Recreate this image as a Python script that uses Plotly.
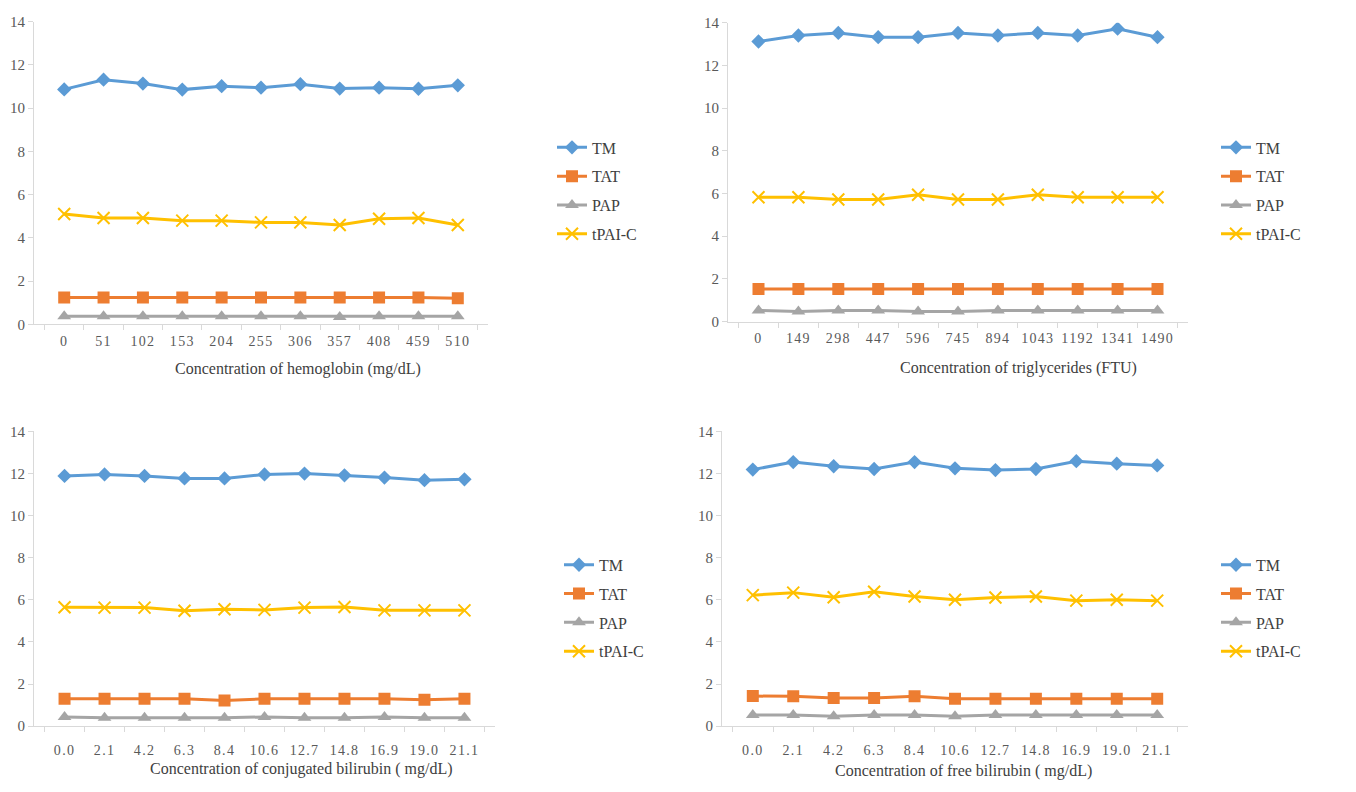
import plotly.graph_objects as go

# Interference study: four markers measured against increasing interferent levels
series_names = ["TM", "TAT", "PAP", "tPAI-C"]

hb_levels = ["0", "51", "102", "153", "204", "255", "306", "357", "408", "459", "510"]
hb_tm = [10.87, 11.32, 11.14, 10.86, 11.02, 10.95, 11.11, 10.91, 10.95, 10.90, 11.06]
hb_tat = [1.25, 1.25, 1.25, 1.25, 1.25, 1.25, 1.25, 1.25, 1.25, 1.25, 1.21]
hb_pap = [0.38, 0.38, 0.38, 0.38, 0.38, 0.38, 0.38, 0.35, 0.38, 0.38, 0.38]
hb_tpai = [5.11, 4.92, 4.92, 4.80, 4.80, 4.72, 4.72, 4.60, 4.89, 4.92, 4.60]

tg_levels = ["0", "149", "298", "447", "596", "745", "894", "1043", "1192", "1341", "1490"]
tg_tm = [13.12, 13.40, 13.52, 13.32, 13.32, 13.52, 13.40, 13.52, 13.40, 13.72, 13.32]
tg_tat = [1.52, 1.52, 1.52, 1.52, 1.52, 1.52, 1.52, 1.52, 1.52, 1.52, 1.52]
tg_pap = [0.52, 0.47, 0.52, 0.52, 0.47, 0.47, 0.52, 0.52, 0.52, 0.52, 0.52]
tg_tpai = [5.82, 5.82, 5.72, 5.72, 5.94, 5.72, 5.72, 5.94, 5.82, 5.82, 5.82]

bil_levels = ["0.0", "2.1", "4.2", "6.3", "8.4", "10.6", "12.7", "14.8", "16.9", "19.0", "21.1"]

cb_tm = [11.88, 11.95, 11.88, 11.76, 11.76, 11.95, 11.99, 11.91, 11.80, 11.68, 11.72]
cb_tat = [1.30, 1.30, 1.30, 1.30, 1.22, 1.30, 1.30, 1.30, 1.30, 1.26, 1.30]
cb_pap = [0.44, 0.40, 0.40, 0.40, 0.40, 0.44, 0.40, 0.40, 0.44, 0.40, 0.40]
cb_tpai = [5.65, 5.63, 5.63, 5.48, 5.55, 5.52, 5.63, 5.66, 5.50, 5.50, 5.50]

fb_tm = [12.18, 12.54, 12.34, 12.21, 12.54, 12.24, 12.16, 12.21, 12.58, 12.46, 12.38]
fb_tat = [1.43, 1.42, 1.34, 1.34, 1.42, 1.30, 1.30, 1.30, 1.30, 1.30, 1.30]
fb_pap = [0.53, 0.53, 0.47, 0.53, 0.53, 0.47, 0.53, 0.53, 0.53, 0.53, 0.53]
fb_tpai = [6.22, 6.34, 6.12, 6.38, 6.16, 6.00, 6.11, 6.16, 5.96, 6.00, 5.96]

panels = [
    dict(levels=hb_levels, values=[hb_tm, hb_tat, hb_pap, hb_tpai],
         title="Concentration of hemoglobin (mg/dL)"),
    dict(levels=tg_levels, values=[tg_tm, tg_tat, tg_pap, tg_tpai],
         title="Concentration of triglycerides (FTU)"),
    dict(levels=bil_levels, values=[cb_tm, cb_tat, cb_pap, cb_tpai],
         title="Concentration of conjugated bilirubin ( mg/dL)"),
    dict(levels=bil_levels, values=[fb_tm, fb_tat, fb_pap, fb_tpai],
         title="Concentration of free bilirubin ( mg/dL)"),
]

colors = ["#5B9BD5", "#ED7D31", "#A5A5A5", "#FFC000"]
symbols = ["diamond", "square", "triangle-up", "x-thin"]
msizes = [11, 12, 12, 12]

W, H = 1356, 792

# plot-area boxes in pixels: (left, right, top, bottom)
boxes = [
    (34, 488, 14, 323),
    (728, 1188, 15, 320),
    (34, 495, 432, 733),
    (722, 1188, 432, 733),
]
legend_pos = [(552, 125), (1216, 125), (559, 551), (1216, 551)]
label_gap = [4, 4, 11, 11]
# left edge / vertical centre of each axis caption, in pixels
caption_pos = [(173, 368), (898, 367), (148, 777), (833, 779)]

FONT = "Liberation Serif"
fig = go.Figure()

for p, (panel, box, lpos) in enumerate(zip(panels, boxes, legend_pos)):
    idx = "" if p == 0 else str(p + 1)
    leg = "legend" + idx
    for s, name in enumerate(series_names):
        m = dict(symbol=symbols[s], size=msizes[s], color=colors[s])
        if symbols[s] == "x-thin":
            m["line"] = dict(color=colors[s], width=2)
        fig.add_trace(go.Scatter(
            x=panel["levels"], y=panel["values"][s], name=name,
            mode="lines+markers", line=dict(color=colors[s], width=3),
            marker=m, xaxis="x" + idx, yaxis="y" + idx,
            legend=leg, legendgroup=f"{p}-{s}",
        ))
    l, r, t, b = box
    fig.update_layout(**{
        "xaxis" + idx: dict(
            domain=[l / W, r / W], anchor="y" + idx, type="category",
            tickson="boundaries", ticks="outside", ticklen=5,
            tickcolor="#D9D9D9", showline=True, linecolor="#D9D9D9", linewidth=1,
            showgrid=False, zeroline=False, ticklabelstandoff=label_gap[p],
            tickfont=dict(family=FONT, size=14, color="#595959"),
        ),
        "yaxis" + idx: dict(
            domain=[1 - b / H, 1 - t / H], anchor="x" + idx,
            range=[0, 14], dtick=2, ticks="outside", ticklen=5,
            tickcolor="#D9D9D9", showline=True, linecolor="#D9D9D9", linewidth=1,
            showgrid=False, zeroline=False,
            tickfont=dict(family=FONT, size=15, color="#595959"),
        ),
        leg: dict(
            x=lpos[0] / W, y=1 - lpos[1] / H, xanchor="left", yanchor="top",
            font=dict(family=FONT, size=16, color="#404040"),
            tracegroupgap=5, bgcolor="rgba(0,0,0,0)",
        ),
    })
    cx, cy = caption_pos[p]
    fig.add_annotation(
        text=panel["title"], xref="paper", yref="paper",
        x=cx / W, y=1 - cy / H, xanchor="left", yanchor="middle",
        showarrow=False, font=dict(family=FONT, size=16, color="#404040"),
    )

fig.update_layout(
    width=W, height=H, margin=dict(l=0, r=0, t=0, b=0),
    paper_bgcolor="white", plot_bgcolor="white", showlegend=True,
)

# widen the spacing between digits of the category tick labels on every x axis
spacing_css = (
    "var st = document.createElement('style');"
    "st.textContent = '.xaxislayer-above text { letter-spacing: 1.3px; }';"
    "document.head.appendChild(st);"
)
fig.write_html("out.html", post_script=spacing_css)
